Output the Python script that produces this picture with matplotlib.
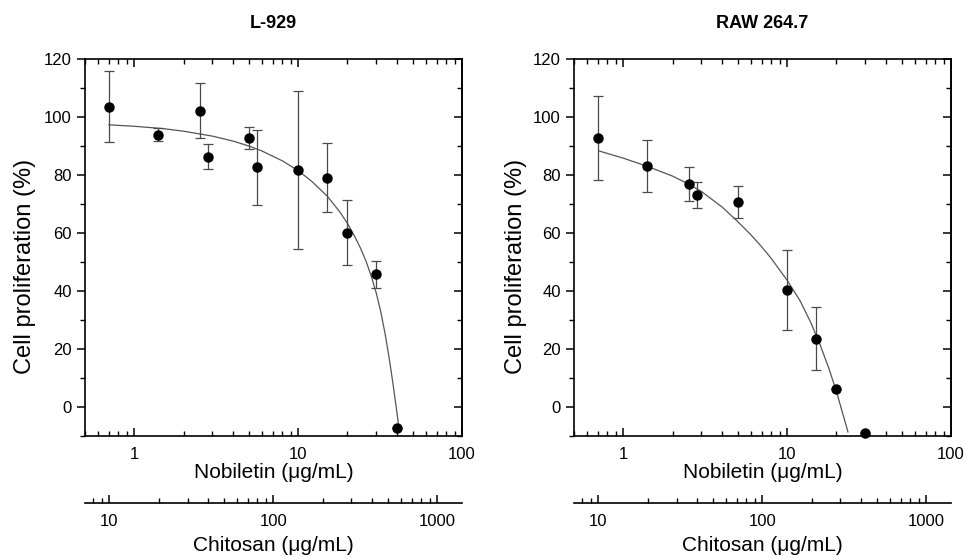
import matplotlib
matplotlib.use("Agg")
import matplotlib.pyplot as plt
from matplotlib.ticker import FuncFormatter, NullFormatter, MultipleLocator, LogLocator

plt.rcParams['font.family'] = ['Liberation Sans', 'DejaVu Sans']

# L-929 data
l929_conc = [0.7, 1.4, 2.5, 2.8, 5, 5.6, 10, 15, 20, 30, 40]
l929_prolif = [103.6, 93.9, 102.2, 86.3, 92.7, 82.6, 81.7, 79.1, 60.1, 45.7, -7.3]
l929_err = [12.3, 2.2, 9.6, 4.3, 3.8, 12.9, 27.1, 12.0, 11.2, 4.5, 0]
# fitted curve
l929_fit_conc = [0.7, 1, 1.5, 2, 3, 4, 5, 6, 8, 10, 12, 15, 18, 20, 22, 24, 26, 28, 30, 32, 34, 36, 38, 40, 41]
l929_fit_prolif = [97.3, 96.8, 96.0, 95.1, 93.4, 91.7, 90.0, 88.3, 84.9, 81.5, 78.0, 72.8, 67.2, 63.3,
                   59.1, 54.8, 50.2, 44.9, 39.2, 32.6, 25.0, 16.6, 7.6, -1.6, -6.3]

# RAW 264.7 data
raw_conc = [0.7, 1.4, 2.5, 2.8, 5, 10, 15, 20, 30]
raw_prolif = [92.8, 83.0, 77.0, 73.1, 70.8, 40.3, 23.6, 6.1, -9.0]
raw_err = [14.4, 9.0, 5.9, 4.5, 5.5, 13.9, 11.0, 0, 0]
raw_fit_conc = [0.71, 1, 1.4, 2, 2.5, 3, 4, 5, 6, 7, 8, 10, 12, 14, 16, 18, 20, 23.5]
raw_fit_prolif = [88.3, 85.8, 83.0, 79.6, 76.9, 74.3, 69.0, 63.9, 59.4, 55.2, 51.2, 43.7,
                  36.6, 28.9, 21.0, 13.2, 5.3, -8.6]

titles = ['L-929', 'RAW 264.7']
nob_lim = (0.5, 100)
chit_lim = (7.1, 1420)   # chitosan equivalent of the nobiletin range
y_lim = (-10, 120)

W, H = 964, 559
fig = plt.figure(figsize=(W / 100, H / 100), dpi=100)


def px_axes(x0, y0, x1, y1):
    # axes from pixel box (top-left origin)
    return fig.add_axes([x0 / W, 1 - y1 / H, (x1 - x0) / W, (y1 - y0) / H])


fmt = FuncFormatter(lambda v, pos: f"{v:g}")


def panel(x0, x1, title, conc, prolif, err, fit_conc, fit_prolif, ylab_x):
    ax = px_axes(x0, 59, x1, 436)
    ax.set_xscale('log')
    ax.set_xlim(nob_lim)
    ax.set_ylim(y_lim)
    ax.plot(fit_conc, fit_prolif, color='#555555', lw=0.9, zorder=2)
    ax.errorbar(conc, prolif, yerr=err, fmt='o', color='black', ms=6.5,
                ecolor='#4a4a4a', elinewidth=0.9, capsize=3.5, capthick=0.9,
                zorder=3, clip_on=False)
    ax.set_title(title, fontsize=13, fontweight='bold', pad=22)
    ax.set_ylabel('Cell proliferation (%)', fontsize=17)
    ax.yaxis.set_label_coords(ylab_x, 0.45)
    ax.set_xlabel('Nobiletin (\u03bcg/mL)', fontsize=15, labelpad=1)

    ax.yaxis.set_major_locator(MultipleLocator(20))
    ax.yaxis.set_minor_locator(MultipleLocator(10))
    ax.xaxis.set_major_formatter(fmt)
    ax.xaxis.set_minor_formatter(NullFormatter())
    ax.tick_params(axis='both', labelsize=12, width=1.1)
    ax.tick_params(which='major', length=6)
    ax.tick_params(which='minor', length=3.5, width=1.0)
    ax.tick_params(axis='x', which='both', direction='in', top=True, pad=8)
    ax.tick_params(axis='y', which='both', direction='out', left=True)
    for sp in ax.spines.values():
        sp.set_linewidth(1.2)

    # right side ticks point inward
    ay = ax.secondary_yaxis('right')
    ay.yaxis.set_major_locator(MultipleLocator(20))
    ay.yaxis.set_minor_locator(MultipleLocator(10))
    ay.tick_params(which='both', direction='in', labelright=False, width=1.1)
    ay.tick_params(which='major', length=6)
    ay.tick_params(which='minor', length=3.5, width=1.0)
    ay.spines['right'].set_linewidth(1.2)

    # second concentration scale for chitosan
    ac = px_axes(x0, 502, x1, 503)
    ac.set_xscale('log')
    ac.set_xlim(chit_lim)
    ac.patch.set_visible(False)
    for s in ['top', 'left', 'right']:
        ac.spines[s].set_visible(False)
    ac.spines['bottom'].set_linewidth(1.2)
    ac.set_yticks([])
    ac.xaxis.set_major_locator(LogLocator(base=10))
    ac.xaxis.set_major_formatter(fmt)
    ac.xaxis.set_minor_formatter(NullFormatter())
    ac.tick_params(axis='x', which='both', direction='in', labelsize=12, pad=8, width=1.1)
    ac.tick_params(which='major', length=6)
    ac.tick_params(which='minor', length=3.5, width=1.0)
    ac.set_xlabel('Chitosan (\u03bcg/mL)', fontsize=15, labelpad=5)
    return ax


panel(85, 462, titles[0], l929_conc, l929_prolif, l929_err, l929_fit_conc, l929_fit_prolif, -0.13)
panel(574, 951, titles[1], raw_conc, raw_prolif, raw_err, raw_fit_conc, raw_fit_prolif, -0.125)

fig.savefig('out.png', dpi=100)
